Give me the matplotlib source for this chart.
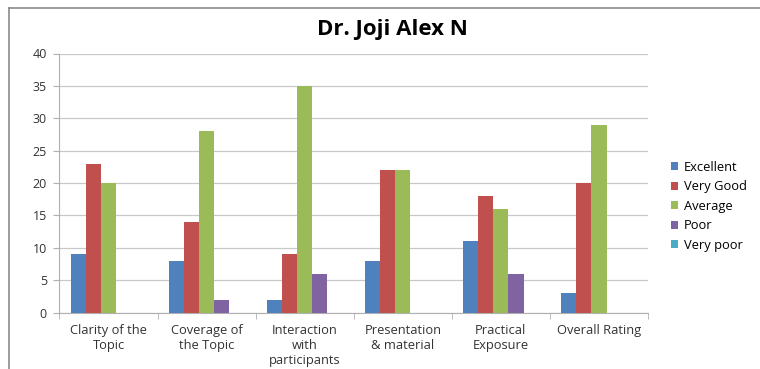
import numpy as np
import matplotlib.pyplot as plt
from matplotlib.lines import Line2D

plt.rcParams['font.family'] = ['Open Sans', 'DejaVu Sans']

categories = ["Clarity of the\nTopic", "Coverage of\nthe Topic", "Interaction\nwith\nparticipants",
              "Presentation\n& material", "Practical\nExposure", "Overall Rating"]
series = ["Excellent", "Very Good", "Average", "Poor", "Very poor"]
excellent = [9, 8, 2, 8, 11, 3]
very_good = [23, 14, 9, 22, 18, 20]
average = [20, 28, 35, 22, 16, 29]
poor = [0, 2, 6, 0, 6, 0]
very_poor = [0, 0, 0, 0, 0, 0]
colors = ["#4F81BD", "#C0504D", "#9BBB59", "#8064A2", "#4BACC6"]

fig = plt.figure(figsize=(7.6, 3.69), dpi=100)
ax = fig.add_axes([59.5 / 760, 1 - 312.5 / 369, (648 - 59.5) / 760, (312.5 - 53.5) / 369])

# outer chart frame (top and left edges visible)
fig.add_artist(Line2D([9 / 760, 9 / 760], [0, 1 - 8 / 369], transform=fig.transFigure, color="#8a8a8a", lw=1.2))
fig.add_artist(Line2D([9 / 760, 1], [1 - 8 / 369, 1 - 8 / 369], transform=fig.transFigure, color="#8a8a8a", lw=1.2))

x = np.arange(len(categories))
w = 1 / 6.5
for i, (vals, name) in enumerate(zip([excellent, very_good, average, poor, very_poor], series)):
    ax.bar(x + (i - 2) * w, vals, width=w, color=colors[i], label=name, zorder=3)

ax.set_xlim(-0.5, len(categories) - 0.5)
ax.set_ylim(0, 40)
ax.set_yticks(range(0, 41, 5))
ax.yaxis.grid(True, color="#c8c8c8", lw=0.9, zorder=0)
ax.set_xticks(x)
ax.set_xticklabels(categories, fontsize=9.3, color="#333333", linespacing=1.2)
ax.set_xticks(np.arange(-0.5, len(categories)), minor=True)
ax.tick_params(axis="x", which="major", length=0, pad=8)
ax.tick_params(axis="x", which="minor", length=4, color="#b0b0b0")
ax.tick_params(axis="y", length=4, color="#b0b0b0", labelsize=9, labelcolor="#333333", pad=5)
for s in ["top", "right"]:
    ax.spines[s].set_visible(False)
for s in ["left", "bottom"]:
    ax.spines[s].set_color("#b0b0b0")

fig.text(392 / 760, 1 - 30 / 369, "Dr. Joji Alex N", ha="center", va="center", fontsize=16, fontweight="bold")

ax.legend(loc="center left", bbox_to_anchor=(1.02, 0.41), frameon=False, fontsize=9.3,
          handlelength=0.55, handleheight=0.55, handletextpad=0.4, labelspacing=0.5)

fig.savefig("out.png", dpi=100)
